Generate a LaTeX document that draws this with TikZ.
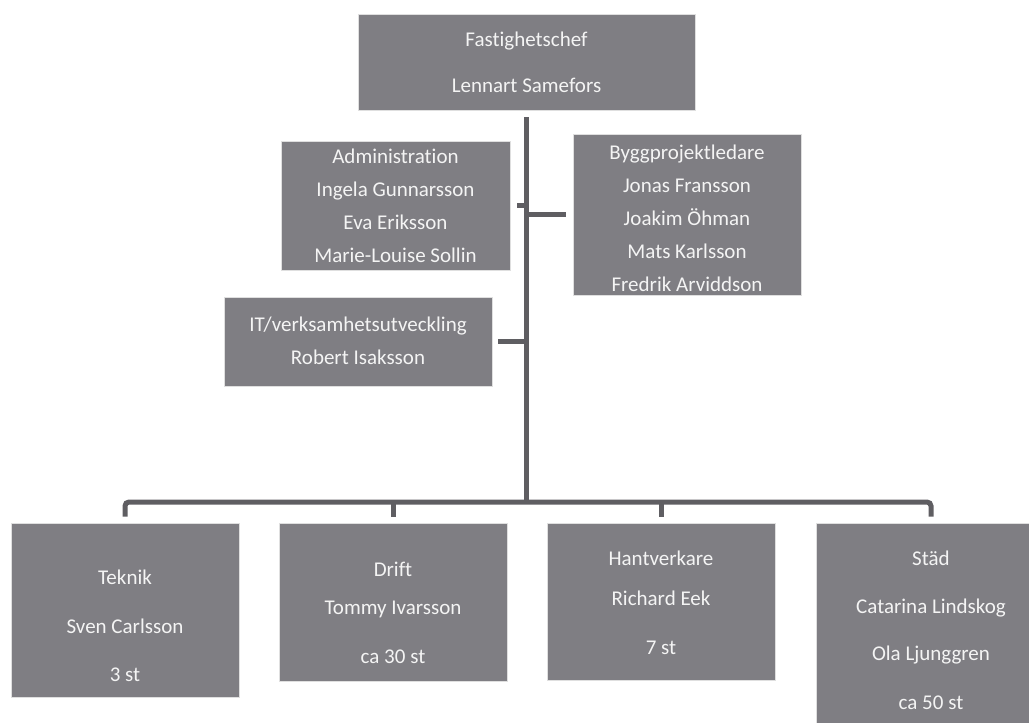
\documentclass[tikz,border=0pt]{standalone}
\usepackage{fontspec}
\setmainfont{Carlito}[Ligatures=NoCommon]
\usepackage{xcolor}
\usepackage{tikz}

\definecolor{boxgray}{HTML}{7F7E83}
\definecolor{linegray}{HTML}{5F5E62}
\definecolor{txtwhite}{HTML}{F4F4F4}

\begin{document}
\begin{tikzpicture}
  [x=1pt,y=-1pt,
   box/.style={rectangle,fill=boxgray,draw=gray!25,line width=0.6pt,inner sep=0pt},
   txt/.style={align=center,text=txtwhite,font=\fontsize{21}{33}\selectfont},
   link/.style={draw=linegray,line width=5pt}] % coordinates in pixels of the reference, y pointing down

  \useasboundingbox (0,0) rectangle (1029,723);
  \clip (0,0) rectangle (1029,723);

  % chef
  \node[box,minimum width=337,minimum height=96] (chef) at (526.5,62) {};
  \node[txt] (chef-t) at (526.5,62) {Fastighetschef\\[13pt]Lennart Samefors};

  % staff
  \node[box,minimum width=229,minimum height=129] (admin) at (395.5,205.5) {};
  \node[txt] (admin-t) at (395.5,205.5) {Administration\\Ingela Gunnarsson\\Eva Eriksson\\Marie-Louise Sollin};

  \node[box,minimum width=228,minimum height=161] (bygg) at (687,214.5) {};
  \node[txt] (bygg-t) at (687,218) {Byggprojektledare\\Jonas Fransson\\Joakim Öhman\\Mats Karlsson\\Fredrik Arviddson};

  \node[box,minimum width=268,minimum height=89] (it) at (358,341.5) {};
  \node[txt] (it-t) at (358,341) {IT/verksamhetsutveckling\\Robert Isaksson};

  % units
  \node[box,minimum width=228,minimum height=174] (teknik) at (125,610) {};
  \node[txt] (teknik-t) at (125,626) {Teknik\\[16pt]Sven Carlsson\\[15pt]3 st};

  \node[box,minimum width=228,minimum height=158] (drift) at (393,602) {};
  \node[txt] (drift-t) at (393,612.5) {Drift\\[5pt]Tommy Ivarsson\\[16pt]ca 30 st};

  \node[box,minimum width=228,minimum height=157] (hant) at (661,601.5) {};
  \node[txt] (hant-t) at (661,602.5) {Hantverkare\\[7pt]Richard Eek\\[16pt]7 st};

  \node[box,minimum width=230,minimum height=212] (stad) at (931,629) {};
  \node[txt] (stad-t) at (931,630) {Städ\\[15pt]Catarina Lindskog\\[14pt]Ola Ljunggren\\[16pt]ca 50 st};

  % connectors
  \coordinate (hub) at (chef.south |- 0,502);

  \draw[link] ([yshift=-7pt]chef.south) -- (hub);
  \draw[link] ([xshift=7pt]admin.east) -- (admin.east -| hub);
  \draw[link] (bygg.west -| hub) -- ([xshift=-7pt]bygg.west);
  \draw[link] ([xshift=6pt]it.east) -- (it.east -| hub);

  \draw[link,rounded corners=4pt] ([yshift=6pt]teknik.north) -- (teknik.north |- hub) -- (stad.north |- hub) -- ([yshift=6pt]stad.north);
  \draw[link] (drift.north |- hub) -- ([yshift=6pt]drift.north);
  \draw[link] (hant.north |- hub) -- ([yshift=6pt]hant.north);

\end{tikzpicture}
\end{document}
